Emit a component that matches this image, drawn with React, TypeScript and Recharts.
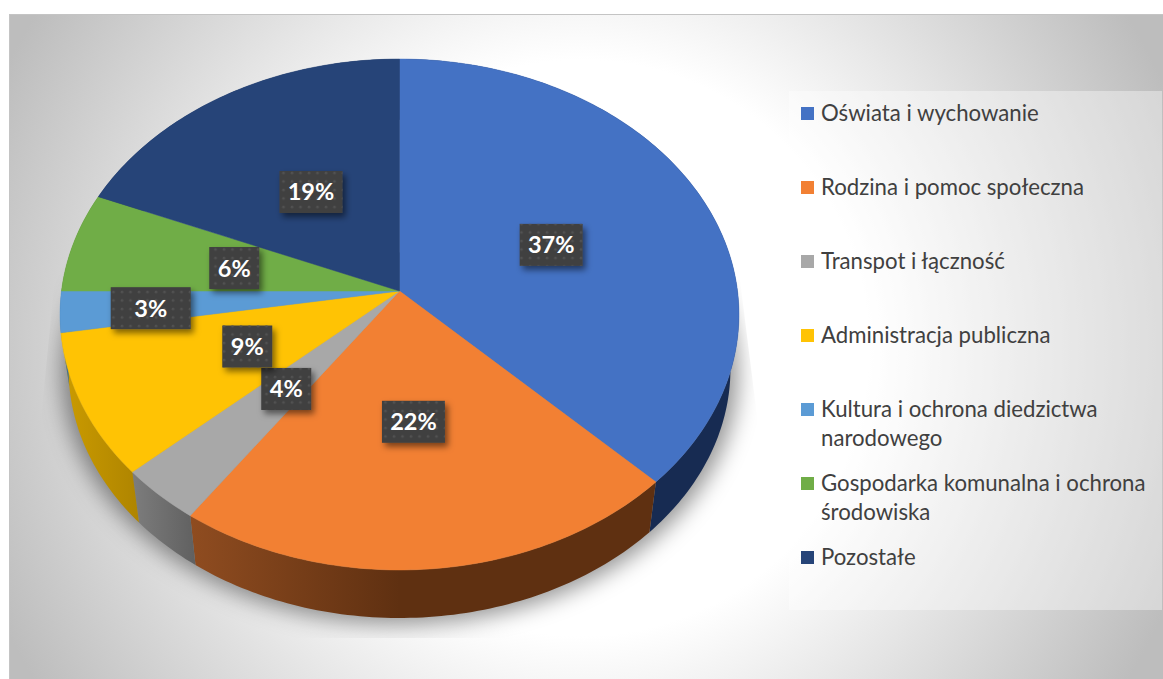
import { PieChart, Pie, Legend } from "recharts";

const categories = [
  "Oświata i wychowanie",
  "Rodzina i pomoc społeczna",
  "Transpot i łączność",
  "Administracja publiczna",
  "Kultura i ochrona diedzictwa narodowego",
  "Gospodarka komunalna i ochrona środowiska",
  "Pozostałe",
];
const shares = [37.45, 22.25, 3.6, 9.1, 2.6, 6.3, 18.7];
const topColors = ["#4472c4", "#f28033", "#a8a8a8", "#ffc304", "#5b9bd5", "#70ad47", "#264478"];
const wallFrom = ["#172b52", "#8f4c20", "#7c7c7c", "#cc9c00", "#3a6d9c", "#4a7a2c", "#172b52"];
const wallTo = ["#172b52", "#5f3011", "#606060", "#ae8400", "#3a6d9c", "#4a7a2c", "#172b52"];

const data = categories.map((name, i) => ({ name, value: shares[i], fill: topColors[i] }));

// perspective of the tilted disc
const K = 0.092;
const SX = 0.9941;
const SY = 0.745;
const DEPTH_SCALE = 0.975;
const DEPTH_DY = 55;

// nudges for the percent boxes, they are hand placed in the original
const labelNudge = [[7, -1], [-2, -2.5], [2, 0], [0, 0.5], [-1, 2], [-9, 0.5], [-5, -5]];

const project = (deg: number, r: number, cx: number, cy: number, f = 1) => {
  const t = (deg * Math.PI) / 180;
  const u = Math.sin(t);
  const v = -Math.cos(t);
  const d = 1 - K * v;
  return [cx + (f * r * SX * u) / d, cy + (f * r * SY * v) / d];
};

const rim = (from: number, to: number, r: number, cx: number, cy: number, f = 1) => {
  const pts = [];
  const n = Math.max(2, Math.ceil(Math.abs(to - from)));
  for (let i = 0; i <= n; i++) pts.push(project(from + ((to - from) * i) / n, r, cx, cy, f));
  return pts;
};

const toPath = (pts: number[][]) =>
  pts.map((p, i) => `${i ? "L" : "M"}${p[0].toFixed(2)} ${p[1].toFixed(2)}`).join(" ") + " Z";

const TopFace = (p: any) => {
  const from = 90 - p.startAngle;
  const to = 90 - p.endAngle;
  const d = toPath([[p.cx, p.cy], ...rim(from, to, p.outerRadius, p.cx, p.cy)]);
  return <path d={d} fill={p.fill} stroke={p.fill} strokeWidth={0.5} />;
};

const WallFace = (p: any) => {
  const from = 90 - p.startAngle;
  const to = 90 - p.endAngle;
  const upper = rim(from, to, p.outerRadius, p.cx, p.cy);
  const lower = rim(to, from, p.outerRadius, p.cx, p.cy + DEPTH_DY, DEPTH_SCALE);
  return <path d={toPath([...upper, ...lower])} fill={`url(#wall${p.index})`} />;
};

const labelWidth = (text: string, i: number) => (i === 4 ? 80 : text.length === 3 ? 63 : 50);

const SliceLabel = (p: any) => {
  const { cx, cy, percent, midAngle, outerRadius, index } = p;
  const [px, py] = project(90 - midAngle, outerRadius, cx, cy, index === 4 ? 0.73 : 0.48);
  const x = px + labelNudge[index][0];
  const y = py + labelNudge[index][1];
  const text = `${Math.round(percent * 100)}%`;
  const w = labelWidth(text, index);
  return (
    <g>
      <rect x={x - w / 2} y={y - 21} width={w} height={42} fill="#404040" filter="url(#boxShadow)" />
      <rect x={x - w / 2} y={y - 21} width={w} height={42} fill="url(#dots)" />
      <text
        x={x}
        y={y + 8.5}
        textAnchor="middle"
        fill="#fff"
        fontFamily="Lato"
        fontWeight={700}
        fontSize={23.5}
      >
        {text}
      </text>
    </g>
  );
};

const LegendBox = ({ payload }: any) => {
  const rows = (payload || []).filter(
    (item: any, i: number, all: any[]) => all.findIndex((o) => o.value === item.value) === i
  );
  const ordered = categories.map((c) => rows.find((r: any) => r.value === c)).filter(Boolean);
  return (
    <div style={{ width: 373, height: 519, padding: "7px 0 0 12px", boxSizing: "border-box", background: "rgba(255,255,255,0.38)" }}>
      {ordered.map((item: any) => (
        <div key={item.value} style={{ height: 74, display: "flex", alignItems: "flex-start" }}>
          <span style={{ width: 13, height: 13, marginTop: 9, marginRight: 7, flex: "none", background: item.color }} />
          <span style={{ width: 340, fontFamily: "Lato", fontSize: 22.2, lineHeight: "29px", color: "#404040" }}>
            {item.value}
          </span>
        </div>
      ))}
    </div>
  );
};

export default function App() {
  return (
    <div style={{ position: "absolute", left: 0, top: 0, width: 1163, height: 679, background: "#fff", overflow: "hidden" }}>
      <div
        style={{
          position: "absolute",
          left: 9,
          top: 14,
          width: 1154,
          height: 665,
          borderTop: "1px solid #c4c4c4",
          borderLeft: "1px solid #c4c4c4",
          boxSizing: "border-box",
          background: "radial-gradient(circle 640px at 571px 333px, #ffffff 45%, #bdbdbd 100%)",
        }}
      />
      <div style={{ position: "absolute", left: 0, top: 0 }}>
        <PieChart width={1163} height={679} margin={{ top: 0, right: 0, bottom: 0, left: 0 }}>
          <defs>
            <pattern id="dots" width="8.5" height="8.5" patternUnits="userSpaceOnUse">
              <circle cx="3" cy="3" r="1.3" fill="#525252" />
            </pattern>
            <filter id="boxShadow" x="-30%" y="-30%" width="170%" height="170%">
              <feDropShadow dx="3" dy="4" stdDeviation="3" floodColor="#000" floodOpacity="0.5" />
            </filter>
            <filter id="discBlur" x="-10%" y="-10%" width="120%" height="120%">
              <feGaussianBlur stdDeviation="11" />
            </filter>
            <clipPath id="shadowClip">
              <polygon points="60,225 39,440 39,638 760,638 760,440 740,280" />
            </clipPath>
            {wallFrom.map((c, i) => (
              <linearGradient key={i} id={`wall${i}`} gradientUnits="userSpaceOnUse" x1={i === 3 ? 60 : i === 2 ? 134 : 191} y1="0" x2={i === 3 ? 140 : i === 2 ? 196 : 400} y2="0">
                <stop offset="0" stopColor={c} />
                <stop offset="1" stopColor={wallTo[i]} />
              </linearGradient>
            ))}
          </defs>
          <g clipPath="url(#shadowClip)">
            <ellipse cx={400} cy={372} rx={338} ry={252} fill="#000" fillOpacity={0.42} filter="url(#discBlur)" />
          </g>
          <Pie
            data={data}
            dataKey="value"
            nameKey="name"
            cx={399.5}
            cy={291}
            outerRadius={340}
            startAngle={90}
            endAngle={-270}
            stroke="none"
            legendType="none"
            isAnimationActive={false}
            shape={WallFace}
          />
          <Pie
            data={data}
            dataKey="value"
            nameKey="name"
            cx={399.5}
            cy={291}
            outerRadius={340}
            startAngle={90}
            endAngle={-270}
            stroke="none"
            isAnimationActive={false}
            shape={TopFace}
            label={SliceLabel}
            labelLine={false}
          />
          <Legend
            layout="vertical"
            align="right"
            verticalAlign="top"
            content={LegendBox}
            wrapperStyle={{ left: 789, top: 91, width: 373, height: 519 }}
          />
        </PieChart>
      </div>
    </div>
  );
}
